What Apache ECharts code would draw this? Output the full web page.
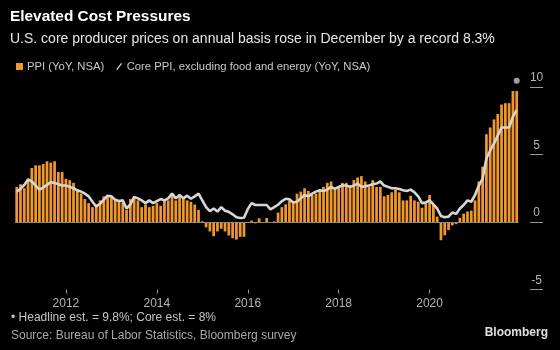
<!DOCTYPE html>
<html><head><meta charset="utf-8">
<script src="https://cdn.jsdelivr.net/npm/echarts@6/dist/echarts.min.js"></script>
<style>html,body{margin:0;padding:0;background:#000;}#c{width:560px;height:350px;}</style>
</head><body><div id="c"></div>
<script>
// Monthly observations: Dec 2010 .. Dec 2021
const startYear = 2010, startMonth = 12, nMonths = 133;
const xTickYears = ['2012','2014','2016','2018','2020'];
const yTicks = [-5, 0, 5, 10];

// PPI final demand, YoY %, NSA (bars)
const ppi = [
 2.6,2.8,2.5,3.2,4.0,4.2,4.2,4.3,4.5,4.4,4.5,3.7,3.7,
 3.2,3.1,2.9,2.4,2.1,1.7,1.4,1.1,1.3,1.6,1.9,1.9,
 1.95,1.6,1.5,1.45,0.9,1.7,1.9,1.6,1.1,1.3,1.1,1.2,
 1.4,1.2,1.6,1.6,2.1,1.6,1.9,1.7,1.6,1.5,1.3,0.9,
 0.05,-0.4,-0.7,-1.05,-0.7,-0.5,-0.7,-1.0,-1.2,-1.3,-1.1,-1.1,
 -0.05,0.1,-0.1,0.27,0.0,0.3,0.0,0.05,0.7,1.1,1.3,1.6,
 1.55,2.1,2.25,2.5,2.3,2.0,2.1,2.4,2.6,2.9,3.0,2.4,
 2.6,2.9,2.9,2.7,3.1,3.3,3.4,3.0,2.6,3.1,2.6,2.6,
 1.9,2.0,2.2,2.4,2.2,1.6,1.6,1.95,1.6,1.5,1.06,1.4,
 2.0,1.3,0.4,-1.35,-0.98,-0.6,-0.25,-0.16,0.32,0.62,0.78,0.84,
 1.6,3.0,4.1,6.5,7.0,7.6,8.0,8.7,8.8,8.8,9.7,9.7
];
// Core PPI excluding food and energy, YoY %, NSA (line)
const core = [
 2.25,2.45,2.75,3.15,3.0,2.7,2.4,2.55,2.75,2.95,2.9,2.8,2.7,
 2.7,2.6,2.5,2.35,2.25,2.1,1.9,1.5,1.15,1.35,1.65,1.95,
 1.9,1.65,1.55,1.6,1.0,1.3,1.85,1.75,1.6,1.4,1.6,1.4,
 1.55,1.7,1.6,1.75,2.1,1.75,2.0,1.75,1.95,1.72,1.9,2.1,
 1.6,1.1,0.8,1.0,0.77,1.1,0.83,0.75,0.57,0.35,0.3,0.32,
 0.95,1.4,1.26,1.26,1.26,1.26,0.94,1.1,1.28,1.55,1.72,1.68,
 1.45,1.5,1.75,2.0,1.9,2.1,2.25,2.35,2.3,2.4,2.6,2.45,
 2.6,2.7,2.7,2.6,2.7,2.85,2.6,2.65,2.7,2.8,2.85,3.0,
 2.7,2.6,2.5,2.5,2.45,2.35,2.3,2.4,2.2,1.9,1.4,1.45,
 1.6,1.3,1.0,0.45,0.35,0.4,0.7,0.6,1.0,1.26,1.6,1.5,
 2.0,2.7,3.2,4.7,5.3,5.8,6.4,7.0,7.0,7.0,7.8,8.3
];
const headlineEst = 9.8;

const months = [];
{ let y = startYear, m = startMonth;
  while (months.length < nMonths) { months.push(y + '-' + String(m).padStart(2,'0')); m++; if (m > 12) { m = 1; y++; } } }
const estData = months.map((mo, i) => i === nMonths - 1 ? headlineEst : null);
const showTick = (idx, v) => v.endsWith('-01') && xTickYears.includes(v.slice(0,4));

const FONT = '"Liberation Sans", Arial, sans-serif';
const chart = echarts.init(document.getElementById('c'), null, {renderer:'canvas'});
chart.setOption({
  backgroundColor: '#000',
  animation: false,
  textStyle: {fontFamily: FONT},
  grid: {left: 14.8, right: 41.4, top: 87, bottom: 60.5, containLabel: false},
  legend: {
    left: 11, top: 56, itemGap: 12, itemWidth: 7, itemHeight: 7,
    textStyle: {color: '#c8c8c8', fontSize: 11.3, fontFamily: FONT, padding: [0,0,0,-1]},
    data: [
      {name: 'PPI (YoY, NSA)', icon: 'rect'},
      {name: 'Core PPI, excluding food and energy (YoY, NSA)', icon: 'path://M8.2,0 L10,1.3 L1.8,12 L0,10.7 Z', itemStyle: {color: '#d6d6d6'}}
    ]
  },
  xAxis: {
    type: 'category', data: months,
    axisLine: {show: false, onZero: false},
    axisTick: {show: true, alignWithLabel: true, interval: showTick, length: 4, lineStyle: {color: '#999'}},
    axisLabel: {interval: showTick, formatter: v => v.slice(0,4), color: '#b4b4b4', fontSize: 12, margin: 8, fontFamily: FONT},
    splitLine: {show: false}
  },
  yAxis: {
    type: 'value', position: 'right', offset: 11.5, min: -5, max: 10, interval: 5,
    axisLine: {show: false},
    axisTick: {show: true, length: 13, lineStyle: {color: '#9a9a9a'}},
    axisLabel: {color: '#b4b4b4', fontSize: 12, margin: 6.5, align: 'center', verticalAlign: 'bottom', padding: [0,0,3,0], fontFamily: FONT,
      formatter: v => yTicks.includes(v) ? String(v) : ''},
    splitLine: {show: false}
  },
  series: [
    {
      name: 'PPI (YoY, NSA)', type: 'bar', data: ppi, barWidth: '72%',
      itemStyle: {color: '#f0982c'},
      markLine: {silent: true, symbol: 'none', label: {show: false},
        lineStyle: {color: '#8a8a8a', width: 1, type: 'solid'}, data: [{yAxis: 0}]},
      z: 2
    },
    {
      name: 'Core PPI, excluding food and energy (YoY, NSA)', type: 'line', data: core,
      showSymbol: false, symbol: 'none', lineStyle: {color: '#d6d6d6', width: 2.6}, itemStyle: {color: '#d6d6d6'}, z: 3
    },
    {
      name: 'est', type: 'scatter', data: estData, symbolSize: 6, symbolOffset: [0, -9], clip: false,
      itemStyle: {color: '#c8c8c8'}, z: 4
    }
  ],
  graphic: [
    {type: 'text', left: 10, top: 9, style: {text: 'Elevated Cost Pressures', fill: '#ffffff', font: 'bold 15.4px ' + FONT}},
    {type: 'text', left: 10, top: 32, style: {text: 'U.S. core producer prices on annual basis rose in December by a record 8.3%', fill: '#e6e6e6', font: '14px ' + FONT}},
    {type: 'text', left: 11, top: 312, style: {text: '\u2022 Headline est. = 9.8%; Core est. = 8%', fill: '#c4c4c4', font: '12px ' + FONT}},
    {type: 'text', left: 11, top: 330, style: {text: 'Source: Bureau of Labor Statistics, Bloomberg survey', fill: '#a8a8a8', font: '12px ' + FONT}},
    {type: 'text', right: 12, top: 327, style: {text: 'Bloomberg', fill: '#e0e0e0', font: 'bold 12px ' + FONT}}
  ]
});
</script></body></html>
